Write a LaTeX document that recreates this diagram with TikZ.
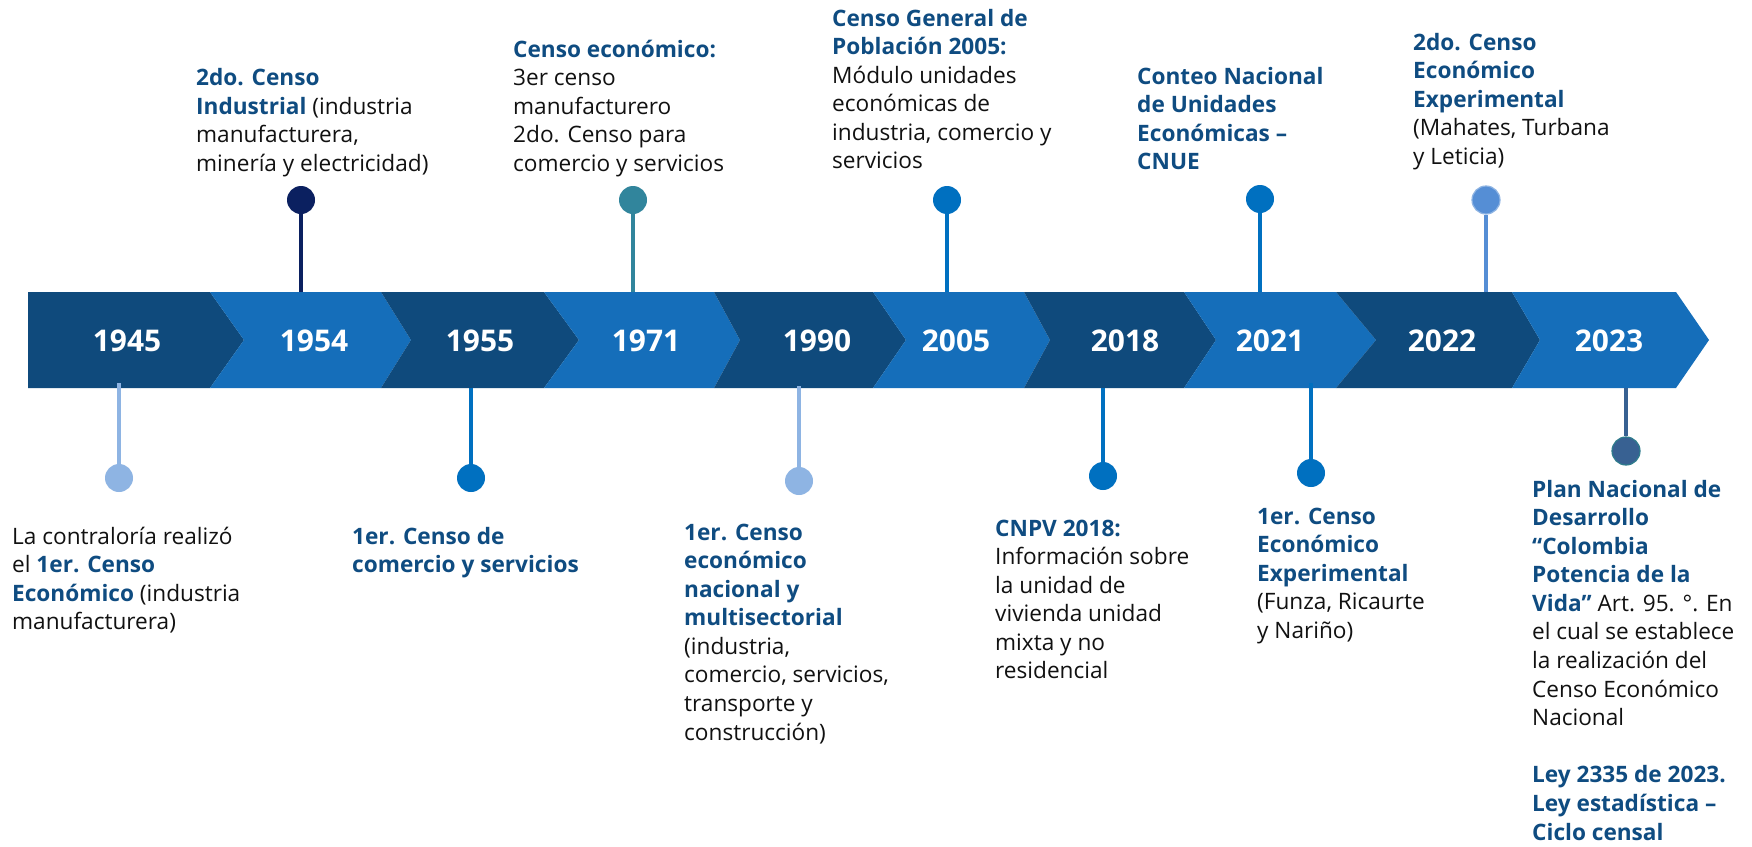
\documentclass[tikz,border=0pt]{standalone}
\usepackage{fontspec}
\setmainfont{Open Sans}
\definecolor{segdark}{HTML}{0F4A7C}
\definecolor{seglight}{HTML}{156EBA}
\definecolor{titleblue}{HTML}{0F4C81}
\definecolor{pinnavy}{HTML}{0B2060}
\definecolor{pinteal}{HTML}{31859C}
\definecolor{pinblue}{HTML}{0070C0}
\definecolor{pinpale}{HTML}{8EB4E3}
\definecolor{pinmid}{HTML}{558ED5}
\definecolor{pinslate}{HTML}{386192}
\definecolor{pinslateedge}{HTML}{2E7C8C}
\definecolor{bodytext}{HTML}{111111}
\newcommand\tbold[1]{{\bfseries\color{titleblue}#1}}
\newcommand\txtblock[1]{\begin{tabular}[t]{@{}l@{}}#1\end{tabular}}
\tikzset{
  yearlabel/.style={text=white, font=\fontsize{30}{36}\selectfont\bfseries, inner sep=0},
  txt/.style={anchor=base west, inner sep=0, text=bodytext, font=\fontsize{22.7}{28.7}\selectfont},
  pin/.style={circle, minimum size=28bp, inner sep=0},
  stem/.style={line width=3.5bp}
}
\begin{document}
\begin{tikzpicture}[x=1bp,y=-1bp]
\useasboundingbox (0,0) rectangle (1752,847);
\fill[white] (0,0) rectangle (1752,847);
% chevron segments
\fill[segdark] (28,292) -- (210,292) -- (244,340) -- (210,388) -- (28,388) -- cycle;
\fill[seglight] (210,292) -- (381,292) -- (411,340) -- (381,388) -- (210,388) -- (244,340) -- cycle;
\fill[segdark] (381,292) -- (544,292) -- (579,340) -- (544,388) -- (381,388) -- (411,340) -- cycle;
\fill[seglight] (544,292) -- (714,292) -- (740,340) -- (714,388) -- (544,388) -- (579,340) -- cycle;
\fill[segdark] (714,292) -- (873,292) -- (906,340) -- (873,388) -- (714,388) -- (740,340) -- cycle;
\fill[seglight] (873,292) -- (1024,292) -- (1050,340) -- (1024,388) -- (873,388) -- (906,340) -- cycle;
\fill[segdark] (1024,292) -- (1184,292) -- (1216,340) -- (1184,388) -- (1024,388) -- (1050,340) -- cycle;
\fill[seglight] (1184,292) -- (1336,292) -- (1376,340) -- (1336,388) -- (1184,388) -- (1216,340) -- cycle;
\fill[segdark] (1336,292) -- (1512,292) -- (1540,340) -- (1512,388) -- (1336,388) -- (1376,340) -- cycle;
\fill[seglight] (1512,292) -- (1676,292) -- (1709,340) -- (1676,388) -- (1512,388) -- (1540,340) -- cycle;
% year labels
\node[yearlabel] (y1945) at (127,341) {1945};
\node[yearlabel] (y1954) at (314,341) {1954};
\node[yearlabel] (y1955) at (480,341) {1955};
\node[yearlabel] (y1971) at (646,341) {1971};
\node[yearlabel] (y1990) at (817,341) {1990};
\node[yearlabel] (y2005) at (956,341) {2005};
\node[yearlabel] (y2018) at (1125,341) {2018};
\node[yearlabel] (y2021) at (1270,341) {2021};
\node[yearlabel] (y2022) at (1442,341) {2022};
\node[yearlabel] (y2023) at (1609,341) {2023};
% top pins
\node[pin, fill=pinnavy] (p1954) at (301,200) {};
\coordinate (b1954) at (301,292);
\draw[stem, pinnavy] (p1954) -- (b1954);
\node[pin, fill=pinteal] (p1971) at (633,200) {};
\coordinate (b1971) at (633,292);
\draw[stem, pinteal] (p1971) -- (b1971);
\node[pin, fill=pinblue] (p2005) at (947,200) {};
\coordinate (b2005) at (947,292);
\draw[stem, pinblue] (p2005) -- (b2005);
\node[pin, fill=pinblue] (p2021t) at (1260,199) {};
\coordinate (b2021t) at (1260,292);
\draw[stem, pinblue] (p2021t) -- (b2021t);
\node[pin, fill=pinmid, draw=pinpale, line width=1.2bp] (p2022) at (1486,200) {};
\coordinate (b2022) at (1486,292);
\draw[stem, pinmid] (p2022) -- (b2022);
% bottom pins
\node[pin, fill=pinpale] (p1945) at (119,478) {};
\coordinate (b1945) at (119,383);
\draw[stem, pinpale] (b1945) -- (p1945);
\node[pin, fill=pinblue] (p1955) at (471,478) {};
\coordinate (b1955) at (471,388);
\draw[stem, pinblue] (b1955) -- (p1955);
\node[pin, fill=pinpale] (p1990) at (799,481) {};
\coordinate (b1990) at (799,386);
\draw[stem, pinpale] (b1990) -- (p1990);
\node[pin, fill=pinblue] (p2018) at (1103,476) {};
\coordinate (b2018) at (1103,388);
\draw[stem, pinblue] (b2018) -- (p2018);
\node[pin, fill=pinblue] (p2021b) at (1311,473) {};
\coordinate (b2021b) at (1311,383);
\draw[stem, pinblue] (b2021b) -- (p2021b);
\node[pin, fill=pinslate, draw=pinslateedge, line width=1.2bp] (p2023) at (1626,451) {};
\coordinate (b2023) at (1626,388);
\draw[stem, pinslate] (b2023) -- (p2023);
% top texts
\node[txt] (t1954) at (196,85.5) {\txtblock{\tbold{2do. Censo}\\ \tbold{Industrial} (industria\\ manufacturera,\\ minería y electricidad)}};
\node[txt] (t1971) at (513,57) {\txtblock{\tbold{Censo económico:}\\ 3er censo\\ manufacturero\\ 2do. Censo para\\ comercio y servicios}};
\node[txt] (t2005) at (832,26) {\txtblock{\tbold{Censo General de}\\ \tbold{Población 2005:}\\ Módulo unidades\\ económicas de\\ industria, comercio y\\ servicios}};
\node[txt] (t2021t) at (1137,84) {\txtblock{\tbold{Conteo Nacional}\\ \tbold{de Unidades}\\ \tbold{Económicas –}\\ \tbold{CNUE}}};
\node[txt] (t2022) at (1413,50) {\txtblock{\tbold{2do. Censo}\\ \tbold{Económico}\\ \tbold{Experimental}\\ (Mahates, Turbana\\ y Leticia)}};
% bottom texts
\node[txt] (t1945) at (12,544) {\txtblock{La contraloría realizó\\ el \tbold{1er. Censo}\\ \tbold{Económico} (industria\\ manufacturera)}};
\node[txt] (t1955) at (352,544) {\txtblock{\tbold{1er. Censo de}\\ \tbold{comercio y servicios}}};
\node[txt] (t1990) at (684,540) {\txtblock{\tbold{1er. Censo}\\ \tbold{económico}\\ \tbold{nacional y}\\ \tbold{multisectorial}\\ (industria,\\ comercio, servicios,\\ transporte y\\ construcción)}};
\node[txt] (t2018) at (995,536) {\txtblock{\tbold{CNPV 2018:}\\ Información sobre\\ la unidad de\\ vivienda unidad\\ mixta y no\\ residencial}};
\node[txt] (t2021b) at (1257,524) {\txtblock{\tbold{1er. Censo}\\ \tbold{Económico}\\ \tbold{Experimental}\\ (Funza, Ricaurte\\ y Nariño)}};
\node[txt] (t2023) at (1532,497) {\txtblock{\tbold{Plan Nacional de}\\ \tbold{Desarrollo}\\ \tbold{“Colombia}\\ \tbold{Potencia de la}\\ \tbold{Vida”} Art. 95. °. En\\ el cual se establece\\ la realización del\\ Censo Económico\\ Nacional\\ \\ \tbold{Ley 2335 de 2023.}\\ \tbold{Ley estadística –}\\ \tbold{Ciclo censal}}};
\end{tikzpicture}
\end{document}
